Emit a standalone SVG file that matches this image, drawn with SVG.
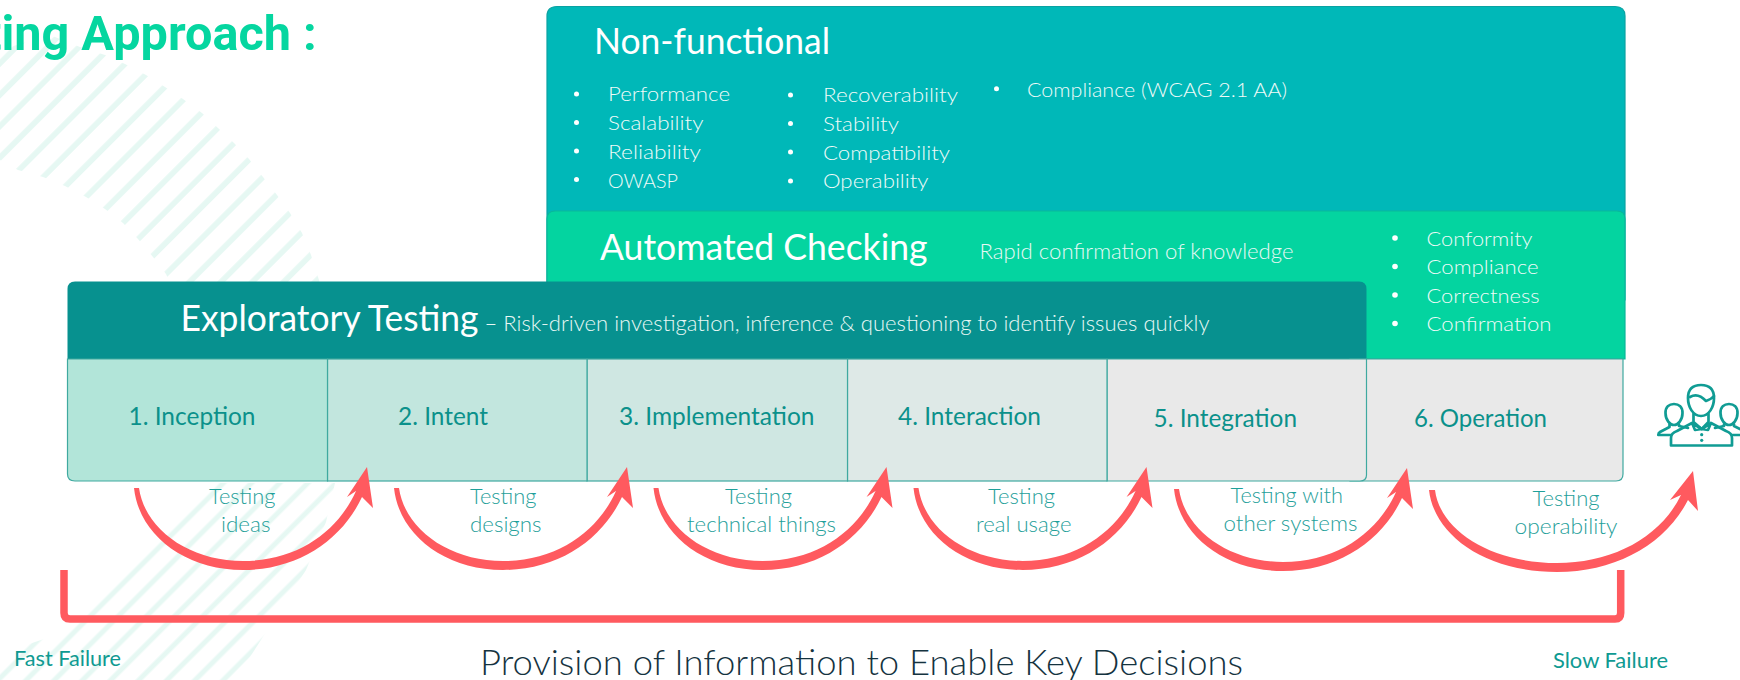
<svg xmlns="http://www.w3.org/2000/svg" width="1740" height="680" viewBox="0 0 1740 680">
<style>
text{font-family:Lato,"Liberation Sans",sans-serif}
.title{font-family:Roboto,"Liberation Sans",sans-serif;font-weight:700;font-size:48.6px;fill:#05D6A0}
.h{font-size:36px;fill:#fff;font-weight:400}
.li{font-size:20px;fill:#F0FBF9;font-weight:300}
.sub{font-size:21px;fill:#E8F8F5;font-weight:300}
.step{font-size:25px;fill:#0B918B}
.lab{font-size:21px;fill:#1FA09A;font-weight:300}
.fail{font-size:20.5px;fill:#0F9A92}
.foot{font-size:35px;fill:#15333F;font-weight:300}
.cell{stroke:#3FA9A0;stroke-width:1.2}
.bul{fill:#fff}
.arc{fill:#FF5A5F}
.icon{fill:none;stroke:#109C94;stroke-width:2.7;stroke-linejoin:round;stroke-linecap:round}
</style>
<defs>
<pattern id="st1" width="22.2" height="24" patternUnits="userSpaceOnUse" patternTransform="rotate(45) translate(3.2)"><rect x="16.6" width="5.6" height="24" fill="#E6F8F3"/></pattern>
<pattern id="st2" width="19.9" height="24" patternUnits="userSpaceOnUse" patternTransform="rotate(45) translate(5)"><rect x="14.4" width="5" height="24" fill="#E6F8F3"/></pattern>
<path id="arcShape" d="M134 488C139 535 185 570 243 570C298 570 342 540 362 497L373 508L367 467L347 497L356 491C338 531 298 561 243 561C190 561 145 530 139 488Z"/>
</defs>
<g id="background">
<polygon fill="url(#st1)" points="0,50 50,35 80,47 105,55 125,64 146,75 165,87 183,99 202,113 218,128 234,143 249,159 263,177 277,195 290,213 302,233 311,255 318,277 320,283 170,283 166,274 153,257 138,239 123,223 105,209 86,197 65,186 43,177 18,170 0,160"/>
<polygon fill="url(#st2)" points="0,680 0,660 17,648 50,637 65,630 182,513 193,498 217,483 335,483 326,522 306,570 250,657 228,680"/>
</g>
<g id="title"><text class="title" x="316.700" y="50" text-anchor="end">ting Approach :</text></g>

<g id="non-functional">
<path d="M547 300V16Q547 6.500 557 6.500H1615Q1625 6.500 1625 16V300Z" fill="#00B8B8" stroke="#0AA2A2" stroke-width="1.200"/>
<text class="h" x="594" y="54" textLength="236" lengthAdjust="spacingAndGlyphs">Non-functional</text>
<circle class="bul" cx="576.500" cy="94" r="2.500"/><circle class="bul" cx="576.500" cy="122.500" r="2.500"/><circle class="bul" cx="576.500" cy="151" r="2.500"/><circle class="bul" cx="576.500" cy="179.500" r="2.500"/>
<text class="li" x="608" y="101" textLength="122" lengthAdjust="spacingAndGlyphs">Performance</text>
<text class="li" x="608" y="130" textLength="95.500" lengthAdjust="spacingAndGlyphs">Scalability</text>
<text class="li" x="608" y="158.500" textLength="93" lengthAdjust="spacingAndGlyphs">Reliability</text>
<text class="li" x="608" y="187.500" textLength="70" lengthAdjust="spacingAndGlyphs">OWASP</text>
<circle class="bul" cx="790.500" cy="95" r="2.500"/><circle class="bul" cx="790.500" cy="123.500" r="2.500"/><circle class="bul" cx="790.500" cy="152" r="2.500"/><circle class="bul" cx="790.500" cy="181" r="2.500"/>
<text class="li" x="823" y="102" textLength="135" lengthAdjust="spacingAndGlyphs">Recoverability</text>
<text class="li" x="823" y="131" textLength="76" lengthAdjust="spacingAndGlyphs">Stability</text>
<text class="li" x="823" y="159.500" textLength="127" lengthAdjust="spacingAndGlyphs">Compatibility</text>
<text class="li" x="823" y="188" textLength="105.500" lengthAdjust="spacingAndGlyphs">Operability</text>
<circle class="bul" cx="996.500" cy="88.700" r="2.500"/>
<text class="li" x="1027" y="96.500" textLength="260" lengthAdjust="spacingAndGlyphs">Compliance (WCAG 2.1 AA)</text>
</g>

<g id="automated-checking">
<path d="M547 359V219Q547 211 555 211H1617Q1625 211 1625 219V359Z" fill="#04D4A0" stroke="#0AB79A" stroke-width="1.200"/>
<text class="h" x="600" y="259.500" textLength="327.500" lengthAdjust="spacingAndGlyphs">Automated Checking</text>
<text class="sub" x="979.500" y="258.500" textLength="314" lengthAdjust="spacingAndGlyphs">Rapid confirmation of knowledge</text>
<circle class="bul" cx="1395" cy="238" r="2.800"/><circle class="bul" cx="1395" cy="266.500" r="2.800"/><circle class="bul" cx="1395" cy="295" r="2.800"/><circle class="bul" cx="1395" cy="323.500" r="2.800"/>
<text class="li" x="1426.500" y="246" textLength="106" lengthAdjust="spacingAndGlyphs">Conformity</text>
<text class="li" x="1426.500" y="274" textLength="112" lengthAdjust="spacingAndGlyphs">Compliance</text>
<text class="li" x="1426.500" y="303" textLength="113" lengthAdjust="spacingAndGlyphs">Correctness</text>
<text class="li" x="1426.500" y="331" textLength="125" lengthAdjust="spacingAndGlyphs">Confirmation</text>
</g>

<g id="exploratory-testing">
<path d="M67.500 359V289Q67.500 281.500 75 281.500H1359Q1366.500 281.500 1366.500 289V359Z" fill="#07918F"/>
<text class="h" x="180.500" y="330.500" textLength="298" lengthAdjust="spacingAndGlyphs">Exploratory Testing</text>
<text class="sub" x="484.500" y="331" textLength="725" lengthAdjust="spacingAndGlyphs">– Risk-driven investigation, inference &amp; questioning to identify issues quickly</text>
</g>

<g id="step-6">
<path class="cell" d="M1350 359H1623V474Q1623 481 1616 481H1350Z" fill="#E9E9E9"/>
<text class="step" x="1414" y="427" textLength="133" lengthAdjust="spacingAndGlyphs">6. Operation</text>
</g>
<g id="step-5">
<path class="cell" d="M1107 359H1366.500V475Q1366.500 481 1360 481H1107Z" fill="#E9E9E9"/>
<text class="step" x="1153.500" y="427" textLength="143.500" lengthAdjust="spacingAndGlyphs">5. Integration</text>
</g>
<g id="step-4">
<rect class="cell" x="847.500" y="359" width="259.500" height="122" fill="#DEE9E7"/>
<text class="step" x="898" y="425" textLength="143" lengthAdjust="spacingAndGlyphs">4. Interaction</text>
</g>
<g id="step-3">
<rect class="cell" x="587" y="359" width="260.500" height="122" fill="#CFE7E2"/>
<text class="step" x="619" y="425" textLength="195.500" lengthAdjust="spacingAndGlyphs">3. Implementation</text>
</g>
<g id="step-2">
<rect class="cell" x="327.500" y="359" width="259.500" height="122" fill="#C2E6DE"/>
<text class="step" x="398" y="425" textLength="90" lengthAdjust="spacingAndGlyphs">2. Intent</text>
</g>
<g id="step-1">
<path class="cell" d="M67.500 359H327.500V481H75Q67.500 481 67.500 474Z" fill="#B2E5D9"/>
<text class="step" x="128.500" y="425" textLength="127" lengthAdjust="spacingAndGlyphs">1. Inception</text>
</g>

<g id="connectors">
<use class="arc" href="#arcShape"/>
<use class="arc" href="#arcShape" x="260"/>
<use class="arc" href="#arcShape" x="519.500"/>
<use class="arc" href="#arcShape" x="779.500"/>
<use class="arc" href="#arcShape" x="1040" y="1"/>
<path class="arc" d="M1429 490C1434 535 1485 572 1557 572C1615 572 1665 545 1688 500L1698 511L1693 471L1670 500L1681 495C1660 538 1612 563 1557 563C1490 563 1440 530 1435 490Z"/>
<path d="M64 570V613Q64 619 70 619H1615Q1620.700 619 1620.700 613V570" fill="none" stroke="#FF5A5F" stroke-width="7.500"/>
</g>

<g id="labels">
<text class="lab" x="209" y="504" textLength="66.500" lengthAdjust="spacingAndGlyphs">Testing</text>
<text class="lab" x="221" y="532" textLength="49.500" lengthAdjust="spacingAndGlyphs">ideas</text>
<text class="lab" x="470" y="504" textLength="66.500" lengthAdjust="spacingAndGlyphs">Testing</text>
<text class="lab" x="470" y="532" textLength="71.500" lengthAdjust="spacingAndGlyphs">designs</text>
<text class="lab" x="725" y="504" textLength="67" lengthAdjust="spacingAndGlyphs">Testing</text>
<text class="lab" x="687" y="532" textLength="149" lengthAdjust="spacingAndGlyphs">technical things</text>
<text class="lab" x="988" y="504" textLength="67" lengthAdjust="spacingAndGlyphs">Testing</text>
<text class="lab" x="976" y="532" textLength="95.500" lengthAdjust="spacingAndGlyphs">real usage</text>
<text class="lab" x="1230.500" y="503" textLength="112.500" lengthAdjust="spacingAndGlyphs">Testing with</text>
<text class="lab" x="1223.500" y="531" textLength="134" lengthAdjust="spacingAndGlyphs">other systems</text>
<text class="lab" x="1532.500" y="506" textLength="67" lengthAdjust="spacingAndGlyphs">Testing</text>
<text class="lab" x="1514.500" y="534" textLength="103" lengthAdjust="spacingAndGlyphs">operability</text>
<text class="fail" x="14" y="666" textLength="107" lengthAdjust="spacingAndGlyphs">Fast Failure</text>
<text class="fail" x="1553" y="668" textLength="115" lengthAdjust="spacingAndGlyphs">Slow Failure</text>
<text class="foot" x="480" y="675" textLength="763" lengthAdjust="spacingAndGlyphs">Provision of Information to Enable Key Decisions</text>
</g>

<g id="users-icon">
<path class="icon" d="M1688 398C1688 389 1693 385 1701 385C1709 385 1714 389 1714 398C1714 407 1709 416 1701 416C1693 416 1688 407 1688 398Z"/>
<path class="icon" d="M1690 397C1695 394 1700 394.500 1706 401C1709 400 1712 398.500 1714 396"/>
<path class="icon" d="M1693.500 414V422L1701.700 429L1708.500 422V414"/>
<path class="icon" d="M1671 445.500V438Q1671 433 1677 431L1692 423L1701.700 429L1711 423L1726 431Q1732 433 1732 438V445.500ZM1692 423L1695 430L1701.700 429L1708 430L1711 423"/>
<path class="icon" d="M1665.500 413C1665.500 407 1669 404 1674 404C1679 404 1682.500 407 1682.500 413C1682.500 420 1678 425 1674 425C1670 425 1665.500 420 1665.500 413ZM1669.500 424V427L1660 432Q1658.300 433 1658.300 435H1671M1679 424V426L1688 428"/>
<path class="icon" d="M1720.500 413C1720.500 407 1724 404 1729 404C1734 404 1737.500 407 1737.500 413C1737.500 420 1733 425 1729 425C1725 425 1720.500 420 1720.500 413ZM1724 424V426L1715 428M1734 424V426L1740 429M1732 435H1740"/>
<circle cx="1701.700" cy="434.700" r="1.600" fill="#109C94"/><circle cx="1701.700" cy="440.300" r="1.600" fill="#109C94"/>
</g>
</svg>
